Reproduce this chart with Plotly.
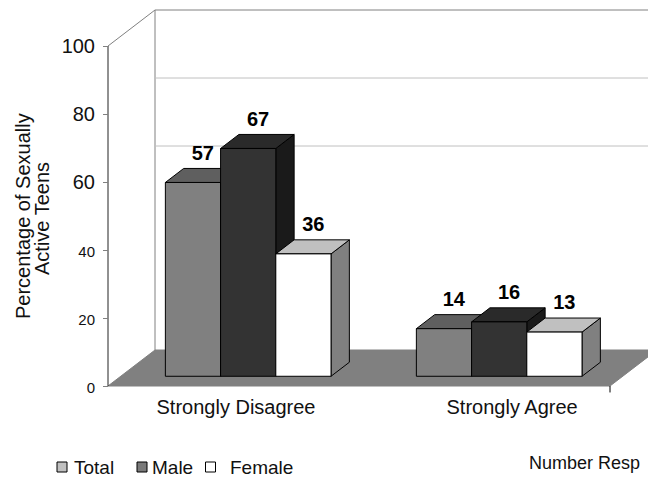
import plotly.graph_objects as go

# ---------------- data ----------------
categories = ["Strongly Disagree", "Strongly Agree"]
series_names = ["Total", "Male", "Female"]
total_vals = [57, 14]
male_vals = [67, 16]
female_vals = [36, 13]
y_tick_vals = [0, 20, 40, 60, 80, 100]
y_tick_text = ["0", "20", "40", "60", "80", "100"]
grid_vals = [60, 80]
y_title_lines = ["Percentage of Sexually", "Active Teens"]
note_text = "Number Resp"

# ---------------- styling / geometry ----------------
FONT = "Liberation Sans, Arial, sans-serif"
W, H = 648, 479
PX0, PXU = 108, 251.0       # front-plane x origin (px) and px per category
PY0, PYU = 386, 3.4         # front-plane y origin (px) and px per percent
DDX = 47 / PXU              # depth offset in x data units
DDY = 36 / PYU              # depth offset in y data units
XAXIS_PY = 393              # pixel row of the (hidden) category axis line

GW = 0.66                   # group width (category units)
BW = GW / 3
F0, F1 = 0.27, 0.66         # bar depth (fraction of floor depth)
NCAT = len(categories)

front_cols = ["#808080", "#333333", "#ffffff"]
top_cols = ["#5f5f5f", "#2a2a2a", "#c0c0c0"]
side_cols = ["#404040", "#1a1a1a", "#808080"]
legend_cols = ["#c0c0c0", "#7a7a7a", "#ffffff"]
label_nudge = [0.01, 0.11]
legend_sym_px = [62, 142, 210.5]
legend_txt_px = [72, 150, 228]
LEGEND_PY = 467


def P(u, v, f):
    return u + f * DDX, v + f * DDY


def px_to_data_x(px):
    return (px - PX0) / PXU


def py_to_data_y(py):
    return (PY0 - py) / PYU


def poly_trace(polys, fill, line="#000000", lw=1):
    xs, ys = [], []
    for poly in polys:
        for (x, y) in poly:
            xs.append(x)
            ys.append(y)
        xs.append(poly[0][0])
        ys.append(poly[0][1])
        xs.append(None)
        ys.append(None)
    return go.Scatter(x=xs, y=ys, mode="lines", fill="toself", fillcolor=fill,
                      line=dict(color=line, width=lw), hoverinfo="skip",
                      showlegend=False)


def line_trace(xs, ys, color, width=1):
    return go.Scatter(x=xs, y=ys, mode="lines", line=dict(color=color, width=width),
                      hoverinfo="skip", showlegend=False)


fig = go.Figure()

ymax = y_tick_vals[-1]
XR = px_to_data_x(W + 20)
# walls: back edges, top edge, gridlines
bx, by = P(0, ymax, 1)
fig.add_trace(line_trace([0, bx, XR], [ymax, by, by], "#808080"))
b0x, b0y = P(0, 0, 1)
fig.add_trace(line_trace([b0x, bx], [b0y, by], "#808080"))
for g in grid_vals:
    gx, gy = P(0, g, 1)
    fig.add_trace(line_trace([gx, XR], [gy, gy], "#c0c0c0"))

# floor
floor = [P(0, 0, 0), P(NCAT, 0, 0), P(NCAT, 0, 1.2), (XR, 1.2 * DDY), (XR, DDY), P(0, 0, 1)]
fig.add_trace(poly_trace([floor], "#808080", line="#808080"))

# front y-axis line
fig.add_trace(line_trace([0, 0], [0, ymax], "#222222"))
# x tick at end of category axis
fig.add_trace(line_trace([NCAT, NCAT], [0, -1.9], "#000000"))

# bars
all_vals = [total_vals, male_vals, female_vals]
for j, vals in enumerate(all_vals):
    fronts, tops, sides = [], [], []
    for i, v in enumerate(vals):
        x0 = i + 0.5 - GW / 2 + j * BW + 0.008
        x1 = x0 + BW
        fronts.append([P(x0, 0, F0), P(x1, 0, F0), P(x1, v, F0), P(x0, v, F0)])
        tops.append([P(x0, v, F0), P(x1, v, F0), P(x1, v, F1), P(x0, v, F1)])
        sides.append([P(x1, 0, F0), P(x1, 0, F1), P(x1, v, F1), P(x1, v, F0)])
    fig.add_trace(poly_trace(sides, side_cols[j]))
    fig.add_trace(poly_trace(tops, top_cols[j]))
    fig.add_trace(poly_trace(fronts, front_cols[j]))

# data labels
for j, vals in enumerate(all_vals):
    lx, ly = [], []
    for i, v in enumerate(vals):
        xc = i + 0.5 - GW / 2 + (j + 0.5) * BW + 0.008
        lx.append(xc + 0.48 * DDX)
        ly.append(v + F1 * DDY + 4.0)
    fig.add_trace(go.Scatter(x=lx, y=ly, mode="text", text=[str(v) for v in vals],
                             textposition="middle center",
                             textfont=dict(family=FONT, size=20, color="#000000"),
                             texttemplate="<b>%{text}</b>",
                             hoverinfo="skip", showlegend=False, cliponaxis=False))

# legend (symbols as markers, names as text)
annotations = []
for j, name in enumerate(series_names):
    fig.add_trace(go.Scatter(x=[px_to_data_x(legend_sym_px[j])], y=[py_to_data_y(LEGEND_PY)],
                             mode="markers", name=name, cliponaxis=False,
                             marker=dict(symbol="square", size=10, color=legend_cols[j],
                                         line=dict(color="#000000", width=1)),
                             hoverinfo="skip", showlegend=False))
    annotations.append(dict(text=name, xref="x", yref="y",
                            x=px_to_data_x(legend_txt_px[j]), y=py_to_data_y(LEGEND_PY),
                            xanchor="left", yanchor="middle", showarrow=False,
                            font=dict(family=FONT, size=19, color="#111111")))

ticktext_styled = []
for t, v in zip(y_tick_text, y_tick_vals):
    if v < 60:
        ticktext_styled.append('<span style="font-size:15px">%s</span>' % t)
    else:
        ticktext_styled.append(t)

annotations += [
    dict(text=y_title_lines[0], textangle=-90, xref="x", yref="y",
         x=px_to_data_x(23), y=py_to_data_y(216), xanchor="center", yanchor="middle",
         showarrow=False, font=dict(family=FONT, size=20, color="#111111")),
    dict(text=y_title_lines[1], textangle=-90, xref="x", yref="y",
         x=px_to_data_x(42), y=py_to_data_y(219), xanchor="center", yanchor="middle",
         showarrow=False, font=dict(family=FONT, size=20, color="#111111")),
    dict(text=note_text, xref="x", yref="y",
         x=px_to_data_x(527), y=py_to_data_y(463),
         xanchor="left", yanchor="middle", showarrow=False,
         font=dict(family=FONT, size=18, color="#111111")),
]

fig.update_layout(
    width=W, height=H,
    margin=dict(l=0, r=0, t=0, b=0, autoexpand=False),
    paper_bgcolor="#ffffff", plot_bgcolor="rgba(0,0,0,0)",
    font=dict(family=FONT, size=19, color="#000000"),
    xaxis=dict(range=[px_to_data_x(0), px_to_data_x(W)], showgrid=False, zeroline=False,
               showline=False, ticks="",
               tickvals=[i + 0.5 + label_nudge[i] for i in range(NCAT)],
               ticktext=categories, tickfont=dict(size=20, color="#111111"),
               anchor="free", position=(H - XAXIS_PY) / H, fixedrange=True),
    yaxis=dict(range=[py_to_data_y(H), py_to_data_y(0)], showgrid=False, zeroline=False,
               showline=False, ticks="outside", ticklen=5, tickcolor="#808080",
               tickvals=y_tick_vals, ticktext=ticktext_styled, ticklabelstandoff=4,
               tickfont=dict(size=20, color="#111111"),
               anchor="free", position=PX0 / W, fixedrange=True),
    showlegend=False,
    annotations=annotations,
)

fig.write_html("out.html", config={"displayModeBar": False},
               post_script="document.body.style.margin='0px';")
